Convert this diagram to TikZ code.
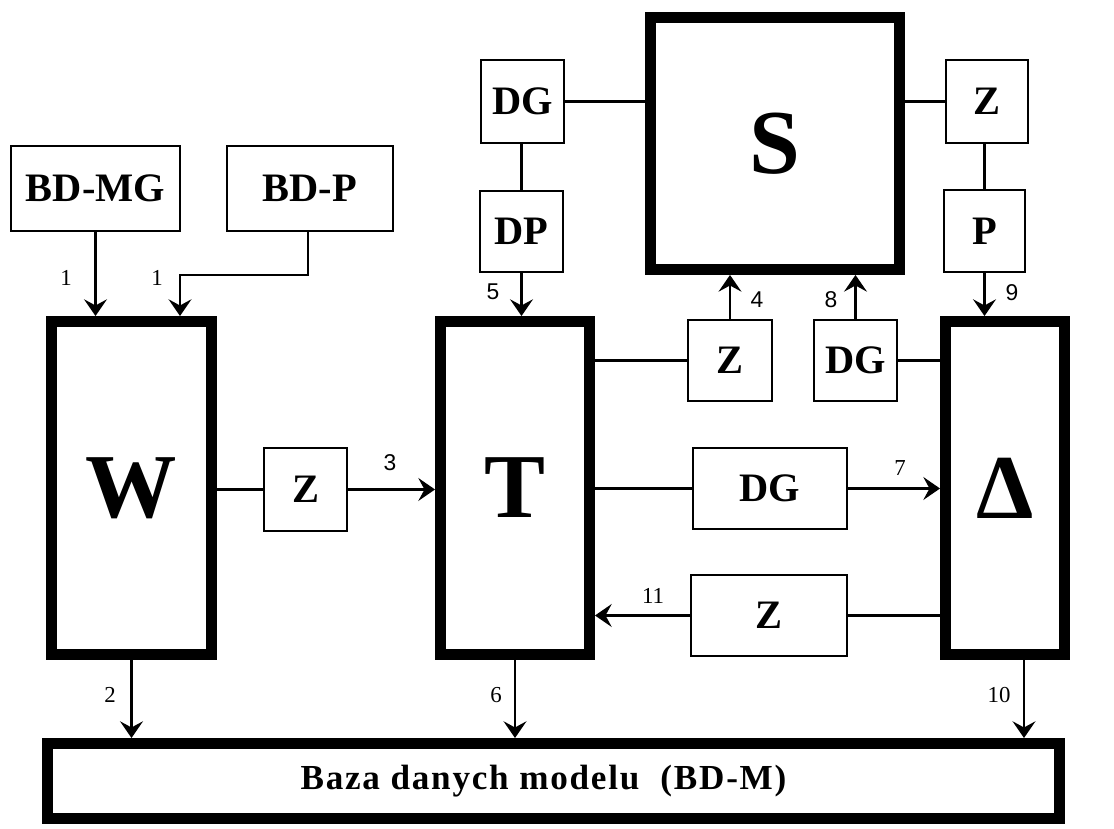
\documentclass[tikz,border=0pt]{standalone}
\usepackage{fontspec}
\setmainfont{Liberation Serif}
\newfontfamily\numfont{Liberation Sans}
\usetikzlibrary{arrows.meta}
\tikzset{
  thin box/.style={draw,line width=1.3pt,inner sep=0pt,font=\fontsize{23}{26}\selectfont\bfseries},
  thick box/.style={draw,line width=6.5pt,inner sep=0pt,font=\fontsize{52}{60}\selectfont\bfseries},
  arr/.style={line width=1.3pt,-{Stealth[length=9.5pt,width=13pt,inset=3.5pt]}},
  ln/.style={line width=1.3pt},
  num/.style={inner sep=0pt,font=\fontsize{13}{15}\selectfont},
  numsf/.style={inner sep=0pt,font=\fontsize{13}{15}\selectfont\numfont}
}
\begin{document}
\begin{tikzpicture}
\useasboundingbox (0,0) rectangle (22.28,16.58);
% bloki glowne
\node[thick box,minimum width=3.19cm,minimum height=6.65cm] (w) at (2.63,6.82) {W};
\node[thick box,minimum width=2.97cm,minimum height=6.65cm] (t) at (10.30,6.82) {T};
\node[thick box,minimum width=2.37cm,minimum height=6.65cm] (delta) at (20.10,6.82) {Δ};
\node[thick box,minimum width=4.97cm,minimum height=5.03cm] (s) at (15.50,13.71) {S};
\node[thick box,minimum width=20.23cm,minimum height=1.49cm,font=\fontsize{20}{24}\selectfont\bfseries\addfontfeatures{LetterSpace=5}] (bdm) at (11.07,0.96) {\hspace*{-0.4cm}Baza danych modelu\ \ (BD-M)};
% bloki pomocnicze
\node[thin box,minimum width=3.37cm,minimum height=1.69cm] (bdmg) at (1.91,12.81) {BD-MG};
\node[thin box,minimum width=3.31cm,minimum height=1.69cm] (bdp) at (6.20,12.81) {BD-P};
\node[thin box,minimum width=1.65cm,minimum height=1.65cm] (dga) at (10.45,14.55) {DG};
\node[thin box,minimum width=1.65cm,minimum height=1.61cm] (dp) at (10.43,11.95) {DP};
\node[thin box,minimum width=1.63cm,minimum height=1.65cm] (za) at (19.74,14.55) {Z};
\node[thin box,minimum width=1.61cm,minimum height=1.63cm] (p) at (19.69,11.96) {P};
\node[thin box,minimum width=1.67cm,minimum height=1.63cm] (zb) at (14.60,9.37) {Z};
\node[thin box,minimum width=1.65cm,minimum height=1.63cm] (dgb) at (17.11,9.37) {DG};
\node[thin box,minimum width=1.65cm,minimum height=1.65cm] (zc) at (6.11,6.79) {Z};
\node[thin box,minimum width=3.07cm,minimum height=1.61cm] (dgc) at (15.40,6.81) {DG};
\node[thin box,minimum width=3.11cm,minimum height=1.61cm] (zd) at (15.38,4.27) {Z};
% polaczenia
\draw[arr] (bdmg.south) -- (bdmg.south |- w.north);
\draw[arr] ([xshift=-0.04cm]bdp.south) -- ++(0,-0.86) -| ([xshift=0.97cm]w.north);
\draw[ln] (zc.west -| w.east) -- (zc.west);
\draw[arr] (zc.east) -- (zc.east -| t.west);
\draw[ln] (dp.north) -- (dp.north |- dga.south);
\draw[ln] (dga.east) -- (dga.east -| s.west);
\draw[arr] (dp.south) -- (dp.south |- t.north);
\draw[ln] (s.east |- za.west) -- (za.west);
\draw[ln] (p.north) -- (p.north |- za.south);
\draw[arr] (p.south) -- (p.south |- delta.north);
\draw[ln] (zb.west -| t.east) -- (zb.west);
\draw[arr] (zb.north) -- (zb.north |- s.south);
\draw[arr] (dgb.north) -- (dgb.north |- s.south);
\draw[ln] (dgb.east) -- (dgb.east -| delta.west);
\draw[ln] (dgc.west -| t.east) -- (dgc.west);
\draw[arr] (dgc.east) -- (dgc.east -| delta.west);
\draw[ln] (zd.east -| delta.west) -- (zd.east);
\draw[arr] (zd.west) -- (zd.west -| t.east);
\draw[arr] (w.south) -- (w.south |- bdm.north);
\draw[arr] (t.south) -- (t.south |- bdm.north);
\draw[arr] ([xshift=0.38cm]delta.south) -- ([xshift=0.38cm]delta.south |- bdm.north);
% numery strumieni
\node[num] (n1a) at (1.32,11.02) {1};
\node[num] (n1b) at (3.14,11.02) {1};
\node[num] (n2) at (2.20,2.68) {2};
\node[numsf] (n3) at (7.80,7.32) {3};
\node[numsf] (n4) at (15.14,10.58) {4};
\node[numsf] (n5) at (9.86,10.74) {5};
\node[num] (n6) at (9.92,2.68) {6};
\node[num] (n7) at (18.00,7.22) {7};
\node[numsf] (n8) at (16.62,10.58) {8};
\node[numsf] (n9) at (20.24,10.72) {9};
\node[num] (n10) at (19.98,2.68) {10};
\node[num] (n11) at (13.06,4.66) {11};
\end{tikzpicture}
\end{document}
